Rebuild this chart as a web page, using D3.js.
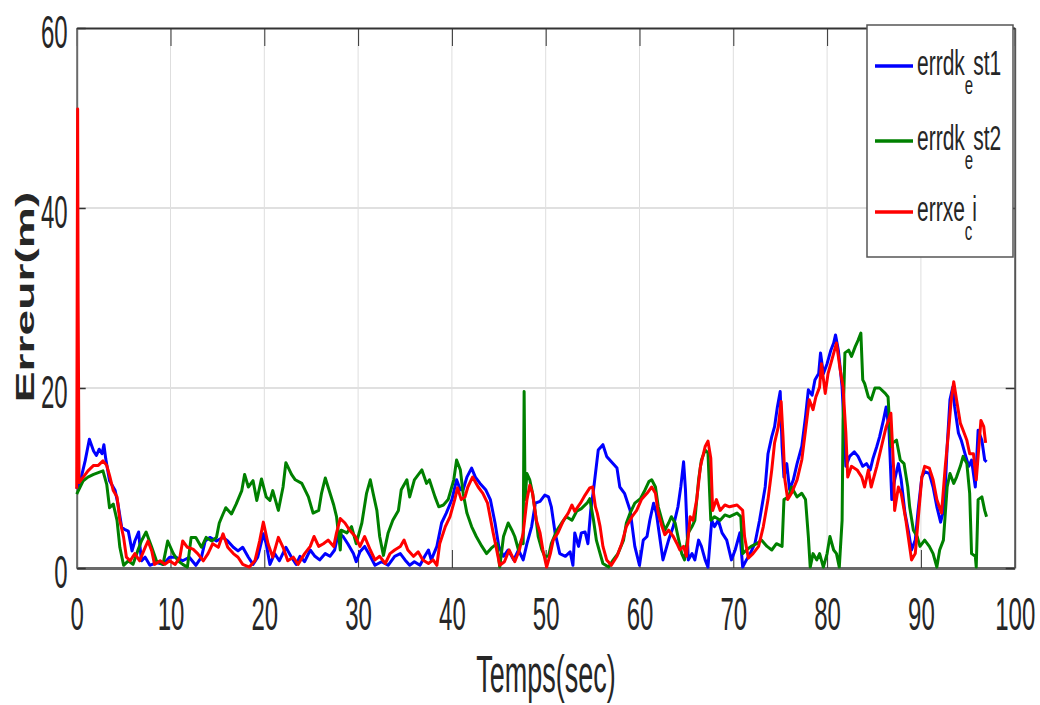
<!DOCTYPE html>
<html><head><meta charset="utf-8">
<script src="https://cdn.jsdelivr.net/npm/d3@7"></script>
<style>
html,body{margin:0;padding:0;background:#fff;}
svg{display:block;}
text{font-family:"Liberation Sans", Arial, Helvetica, sans-serif; fill:#262626;}
</style></head><body>
<svg id="chart" width="1040" height="705"></svg>
<script>
const xTicks = [0,10,20,30,40,50,60,70,80,90,100];
const yTicks = [0,20,40,60];
const xLabel = "Temps(sec)";
const yLabel = "Erreur(m)";
const legendParts = [["errdk","e","st1"],["errdk","e","st2"],["errxe","c","i"]];
const seriesColors = ["#0000ff","#008000","#ff0000"];

const errdkEst1 = [[0,8.8],[0.4,9.7],[0.9,11.9],[1.35,14.3],[1.8,13],[2.1,12.5],[2.4,13.2],[2.7,12.7],[2.9,13.7],[3.1,12.1],[3.5,9.7],[4.1,8.6],[4.4,7.1],[4.8,4.5],[5.1,4.3],[5.5,4.1],[5.9,1.9],[6.2,3.0],[6.6,4.0],[6.9,0.8],[7.3,1.2],[7.8,0.3],[8.5,0.6],[9.2,0.4],[9.9,1.2],[10.6,1.2],[11.3,0.8],[12,1.2],[12.7,0.3],[13.3,1.2],[13.7,3.0],[14.2,3.4],[14.9,3.0],[15.6,3.4],[16.1,3.0],[16.7,2.3],[17.2,1.9],[17.7,2.3],[18.3,1.2],[18.8,0.4],[19.3,1.2],[19.9,3.8],[20.2,2.7],[20.6,0.4],[21.1,1.6],[21.6,0.8],[22.3,2.3],[22.9,1.2],[23.4,0.4],[23.8,1.3],[24.3,0.7],[24.9,2.0],[25.4,1.3],[25.9,0.9],[26.5,1.6],[27,1.3],[27.5,2.0],[27.9,3.9],[28.4,3.5],[28.9,2.7],[29.5,1.6],[29.8,0.7],[30.2,1.8],[30.7,2.4],[31.3,1.3],[31.8,0.3],[32.5,0.7],[33.2,0.3],[33.9,1.3],[34.5,1.6],[35,0.9],[35.5,0.3],[36,0.7],[36.6,0.3],[37.1,1.3],[37.5,2.0],[37.8,0.9],[38.4,2.4],[38.9,5.0],[39.4,6.1],[40,7.6],[40.5,9.8],[40.9,8.7],[41.2,8.7],[41.6,10.1],[42.1,11.1],[42.5,10.1],[43,9.4],[43.6,8.7],[44.1,7.6],[44.6,5.0],[45,2.4],[45.5,1.3],[46,2.0],[46.6,0.9],[47.1,2.0],[47.6,0.9],[48,2.7],[48.5,4.6],[48.9,7.2],[49.4,7.4],[49.9,8.1],[50.3,7.9],[50.6,6.8],[51,3.9],[51.5,1.6],[52.1,1.3],[52.6,1.8],[52.9,0.3],[53.1,3.9],[53.5,2.4],[53.8,3.9],[54.2,4.0],[54.5,2.7],[54.8,6.4],[55.1,8.7],[55.6,13.1],[56.1,13.7],[56.5,12.4],[57,11.8],[57.6,11.1],[57.9,9.0],[58.4,8.3],[59,6.4],[59.5,2.4],[60,0.3],[60.4,3.1],[60.8,3.5],[61.1,5.3],[61.5,7.2],[61.8,6.1],[62.2,3.1],[62.5,0.9],[63.1,3.1],[63.6,4.6],[64.1,6.8],[64.4,9.0],[64.7,11.8],[64.9,8.7],[65.2,0.9],[65.6,1.6],[65.9,0.9],[66.3,3.1],[66.6,2.4],[67,0.9],[67.3,0.1],[67.7,5.3],[68,4.6],[68.4,5.3],[68.8,3.9],[69.3,3.1],[69.8,0.9],[70.2,2.0],[70.7,3.9],[71,0.1],[71.4,0.9],[71.8,1.6],[72.3,2.7],[72.8,5.3],[73.4,9.0],[73.7,12.7],[74.1,14.6],[74.4,15.7],[74.7,17.9],[75,19.6],[75.2,13.5],[75.4,10.1],[75.7,11.6],[76,8.7],[76.4,9.8],[76.8,11.6],[77.3,13.5],[77.7,16.8],[78,19.8],[78.4,19.2],[78.7,20.9],[79.1,21.6],[79.3,23.9],[79.6,21.6],[80,22.7],[80.4,24.2],[80.7,25],[80.9,25.9],[81.2,24.2],[81.6,20.1],[81.8,15.7],[82,11.3],[82.4,12.4],[82.9,12.9],[83.3,12.4],[83.8,11.3],[84.2,11.6],[84.6,10.9],[84.9,12.2],[85.3,13.5],[85.6,14.6],[86,16.4],[86.3,17.9],[86.6,15.3],[86.9,7.6],[87.2,9.8],[87.6,11.6],[87.9,9.8],[88.3,6.1],[88.7,3.9],[89,2.0],[89.4,3.1],[89.7,6.4],[90.1,10.1],[90.4,10.7],[90.9,10.5],[91.3,9.0],[91.7,6.8],[92.1,5.1],[92.5,6.8],[92.8,13.5],[93.1,18.7],[93.4,20.1],[93.6,17.9],[94,15],[94.3,14.2],[94.7,12.7],[95.1,11.3],[95.4,12.0],[95.8,9.0],[96.1,15.3],[96.5,14.2],[96.8,12.0],[97,11.8]];

const errdkEst2 = [[0,8.2],[0.7,9.7],[1.2,10.1],[1.8,10.4],[2.3,10.6],[2.8,10.8],[3.2,9.3],[3.5,6.7],[3.9,7.1],[4.3,5.3],[4.6,2.3],[5,0.3],[5.5,0.8],[6,0.4],[6.5,1.9],[6.9,3.0],[7.4,4.0],[8,2.3],[8.5,0.8],[9.2,0.4],[9.7,3.0],[10.3,1.6],[10.8,0.8],[11.3,0.4],[11.8,0.1],[12.2,3.4],[12.7,3.4],[13.3,2.3],[13.8,3.4],[14.4,3.0],[14.9,3.4],[15.2,5.0],[15.6,6.0],[15.9,6.7],[16.5,6.0],[17,7.1],[17.6,8.6],[17.9,10.4],[18.3,9.0],[18.8,9.7],[19.2,7.5],[19.7,9.9],[20.2,7.9],[20.6,7.5],[20.9,8.6],[21.5,6.4],[22,9.0],[22.3,11.7],[22.9,10.4],[23.3,9.8],[24,9.4],[24.7,7.9],[25.2,6.1],[25.8,6.4],[26.1,8.3],[26.5,10.0],[26.8,9.0],[27.4,7.0],[27.7,5.7],[28.1,2.0],[28.2,4.2],[28.8,3.9],[29.3,4.6],[29.8,2.7],[30.4,5.0],[30.9,8.3],[31.3,9.8],[31.6,8.3],[32,6.4],[32.3,3.5],[32.7,1.4],[33.2,3.9],[33.7,5.3],[34.3,6.4],[34.6,8.7],[35.2,9.8],[35.5,7.9],[36,9.8],[36.8,10.9],[37.3,9.4],[37.6,9.8],[38.2,7.9],[38.6,6.8],[39.1,7.0],[39.6,7.6],[40.2,9.8],[40.5,12.0],[40.9,10.9],[41.2,8.3],[41.6,6.1],[42.1,4.6],[42.6,3.5],[43.2,2.4],[43.7,1.6],[44.2,2.2],[44.8,2.7],[45.1,0.1],[45.5,3.5],[46,5.0],[46.4,4.2],[46.7,3.5],[47.1,2.0],[47.4,3.1],[47.6,2.7],[47.7,19.6],[47.8,7.6],[48,10.5],[48.3,9.8],[48.6,8.3],[48.9,6.1],[49.2,3.5],[49.6,2.0],[49.9,1.3],[50.3,1.3],[50.6,2.7],[51.2,4.2],[51.7,5.0],[52.2,5.7],[52.8,5.3],[53.3,6.3],[53.8,6.6],[54.4,7.2],[54.7,7.7],[55.1,5.3],[55.4,3.1],[55.8,1.6],[56.1,0.5],[56.7,0.1],[57.2,0.9],[57.7,1.6],[58.3,3.1],[58.6,5.0],[59,6.1],[59.5,7.2],[60.1,7.7],[60.6,8.7],[61,9.6],[61.3,9.8],[61.7,9.0],[62,6.8],[62.4,5.3],[62.7,4.2],[63.1,5.0],[63.4,5.7],[63.8,5.0],[64.1,3.5],[64.5,1.6],[64.8,0.9],[65.2,3.9],[65.6,4.6],[65.9,5.3],[66.3,9.8],[66.6,12.0],[67,13.1],[67.3,12.8],[67.6,5.3],[68,5.7],[68.6,5.3],[69.1,5.9],[69.6,5.7],[70.4,6.1],[70.8,5.7],[71,1.6],[71.4,2.0],[71.9,2.4],[72.5,2.7],[73,3.1],[73.6,2.4],[74.1,2.0],[74.6,2.7],[75.2,2.4],[75.4,7.6],[75.9,7.9],[76.2,9.0],[76.8,7.9],[77.3,8.3],[77.7,7.6],[78,3.5],[78.2,0.1],[78.5,1.6],[78.9,0.9],[79.2,1.6],[79.6,0.1],[80,1.6],[80.3,3.5],[80.7,2.0],[81,1.6],[81.3,0.1],[81.6,5.3],[81.7,16.4],[81.9,23.9],[82.3,24.2],[82.6,23.5],[83,24.6],[83.3,25.3],[83.6,26.1],[83.8,20.9],[84,20.5],[84.4,19.0],[84.7,18.7],[85.1,20.0],[85.6,20.0],[86.2,19.4],[86.5,19.0],[86.8,13.5],[87,13.9],[87.4,14.2],[87.8,12.0],[88.2,11.6],[88.6,9.0],[88.8,6.8],[89.2,4.2],[89.6,3.5],[89.9,2.4],[90.4,3.1],[90.9,2.4],[91.3,1.6],[91.7,0.1],[92,2.0],[92.4,3.1],[92.8,9.0],[93.1,10.5],[93.5,9.4],[93.8,10.1],[94.2,11.3],[94.5,12.4],[94.9,11.6],[95.2,8.3],[95.4,1.6],[95.8,1.3],[95.9,0.1],[96.1,7.6],[96.5,7.9],[96.8,6.4],[97,5.7]];

const errxeCi = [[0,8.8],[0.1,51],[0.15,30],[0.25,9.5],[0.7,10.1],[1.2,10.8],[1.8,11.4],[2.3,11.4],[2.8,11.9],[3.2,11.4],[3.5,10.3],[3.9,8.6],[4.3,7.9],[4.6,5.3],[5,3.4],[5.3,1.2],[5.7,0.8],[6.2,1.6],[6.7,0.8],[7.3,2.3],[7.6,3.0],[8,1.9],[8.3,0.4],[8.9,0.8],[9.4,0.4],[9.9,0.8],[10.5,0.4],[11,1.2],[11.3,3.0],[11.8,2.3],[12.4,2.1],[12.9,1.6],[13.5,0.8],[14,1.6],[14.5,2.7],[15.1,2.3],[15.6,3.8],[16.1,2.3],[16.7,1.6],[17.2,1.2],[17.7,0.4],[18.4,0.1],[19,0.8],[19.5,3.0],[19.9,5.1],[20.4,2.7],[20.9,1.2],[21.5,3.4],[22,2.3],[22.5,0.8],[23.1,1.2],[23.6,0.4],[24.3,1.6],[24.9,2.4],[25.3,3.5],[25.8,2.4],[26.3,2.7],[26.8,3.1],[27.4,2.4],[27.7,3.9],[28.1,5.5],[28.6,5.0],[29.1,4.2],[29.7,3.5],[30.2,2.4],[30.7,3.5],[31.3,2.0],[31.8,0.9],[32.3,1.3],[32.9,0.5],[33.4,1.6],[33.9,2.0],[34.5,2.4],[34.9,3.1],[35.3,2.0],[35.9,1.3],[36.4,1.8],[36.9,0.9],[37.5,0.5],[38,0.9],[38.4,0.3],[38.7,2.7],[39.3,4.6],[39.8,5.7],[40.3,7.6],[40.6,8.9],[41,7.6],[41.4,7.9],[41.7,9.0],[42.2,10.1],[42.8,9.0],[43.3,8.3],[43.8,7.2],[44.4,3.9],[44.7,2.4],[45.1,0.3],[45.6,0.7],[46.1,2.0],[46.7,0.7],[47.2,2.0],[47.6,3.9],[48,7.6],[48.3,9.2],[48.6,8.3],[49,5.3],[49.4,3.9],[49.7,2.0],[50.1,0.1],[50.5,1.6],[50.8,3.1],[51.3,3.9],[51.9,5.3],[52.4,6.1],[52.8,7.0],[53.1,6.3],[53.7,7.2],[54.2,8.1],[54.7,8.9],[55,9.0],[55.3,6.8],[55.5,6.1],[55.8,4.6],[56.1,2.4],[56.5,0.9],[57,0.3],[57.6,1.3],[58.1,2.7],[58.6,4.6],[59.2,5.7],[59.7,6.4],[60.2,7.6],[60.8,8.3],[61.3,9.0],[61.7,8.3],[62,6.1],[62.4,4.6],[62.7,3.7],[63.1,4.2],[63.6,3.5],[64,2.7],[64.3,2.0],[64.7,2.4],[65,1.3],[65.4,5.7],[65.7,5.3],[66.1,7.6],[66.5,11.3],[67,13.5],[67.3,14.1],[67.6,12.2],[67.8,6.4],[68.2,7.6],[68.6,6.4],[69.1,7.0],[69.6,6.8],[70.4,7.0],[71,6.4],[71.2,3.5],[71.6,1.1],[72.1,1.6],[72.7,2.4],[73.2,4.6],[73.7,7.6],[74.1,10.9],[74.4,13.9],[74.8,15.7],[75.1,18.5],[75.3,14.6],[75.5,9.8],[75.8,7.6],[76.2,8.3],[76.8,9.8],[77.3,12],[77.7,15.3],[78.1,18.7],[78.5,17.6],[78.8,19.0],[79.2,20.1],[79.4,22.7],[79.8,19.4],[80.1,21.6],[80.5,23.1],[81,25.0],[81.4,22.0],[81.7,20.1],[82,15.0],[82.2,10.1],[82.6,11.3],[83.2,10.9],[83.7,10.1],[84,9.0],[84.4,10.9],[84.7,9.0],[85.3,11.3],[85.8,13.5],[86.3,15.7],[86.8,17.2],[87.1,10.9],[87.2,6.4],[87.6,9.0],[87.9,8.3],[88.4,5.3],[88.7,3.1],[89,0.9],[89.4,1.6],[89.7,5.3],[90.1,10.1],[90.4,11.3],[90.9,11.1],[91.3,9.8],[91.7,7.6],[92.2,6.1],[92.6,11.3],[92.9,14.6],[93.2,18.3],[93.5,20.7],[93.8,18.7],[94.2,16.1],[94.5,15.3],[94.9,14.2],[95.2,12.7],[95.6,12.7],[95.9,9.8],[96.1,12.4],[96.4,16.4],[96.7,15.7],[96.9,13.9]];

const seriesList = [errdkEst1, errdkEst2, errxeCi];

// ---------- layout ----------
const plot = {left: 76.7, right: 1014.7, top: 28, bottom: 568};
const SY = 1.95; // vertical text stretch seen in the reference
const x = d3.scaleLinear().domain([0, 100]).range([plot.left, plot.right]);
const y = d3.scaleLinear().domain([0, 60]).range([plot.bottom, plot.top]);
const svg = d3.select("#chart");

// grid
svg.append("g").selectAll("line").data(xTicks.filter(d => d > 0 && d < 100)).join("line")
  .attr("x1", d => x(d)).attr("x2", d => x(d)).attr("y1", plot.top).attr("y2", plot.bottom)
  .attr("stroke", "#dedede").attr("stroke-width", 1);
svg.append("g").selectAll("line").data(yTicks.filter(d => d > 0 && d < 60)).join("line")
  .attr("x1", plot.left).attr("x2", plot.right).attr("y1", d => y(d)).attr("y2", d => y(d))
  .attr("stroke", "#e0e0e0").attr("stroke-width", 2);

// axes
const gBottom = svg.append("g").attr("transform", `translate(0,${plot.bottom})`)
  .call(d3.axisBottom(x).tickValues(xTicks).tickSizeInner(-18).tickSizeOuter(0));
gBottom.select(".domain").attr("stroke", "#6a6a6a").attr("stroke-width", 3);
gBottom.selectAll(".tick line").attr("stroke", "#333").attr("stroke-width", 1);
gBottom.selectAll(".tick text").attr("y", null).attr("dy", null)
  .attr("transform", `translate(0,62) scale(1,${SY})`)
  .attr("font-size", 24).attr("fill", "#262626").style("font-family", '"Liberation Sans", Arial, sans-serif');

const gTop = svg.append("g").attr("transform", `translate(0,${plot.top})`)
  .call(d3.axisTop(x).tickValues(xTicks).tickSizeInner(-18).tickSizeOuter(0).tickFormat(""));
gTop.select(".domain").attr("stroke", "#333").attr("stroke-width", 2);
gTop.selectAll(".tick line").attr("stroke", "#333");

const gLeft = svg.append("g").attr("transform", `translate(${plot.left},0)`)
  .call(d3.axisLeft(y).tickValues(yTicks).tickSizeInner(-9).tickSizeOuter(0));
gLeft.select(".domain").attr("stroke", "#6a6a6a").attr("stroke-width", 2);
gLeft.selectAll(".tick line").attr("stroke", "#333").attr("stroke-width", 1.5);
gLeft.selectAll(".tick text").attr("x", null).attr("dy", null).attr("text-anchor", "end")
  .attr("transform", `translate(-9,19) scale(1,${SY})`)
  .attr("font-size", 24).attr("fill", "#262626").style("font-family", '"Liberation Sans", Arial, sans-serif');

const gRight = svg.append("g").attr("transform", `translate(${plot.right},0)`)
  .call(d3.axisRight(y).tickValues(yTicks).tickSizeInner(-9).tickSizeOuter(0).tickFormat(""));
gRight.select(".domain").attr("stroke", "#555").attr("stroke-width", 2);
gRight.selectAll(".tick line").attr("stroke", "#333").attr("stroke-width", 1.5);

// series
const line = d3.line().x(d => x(d[0])).y(d => y(d[1]));
svg.append("g").selectAll("path").data(seriesList).join("path")
  .attr("d", line).attr("fill", "none")
  .attr("stroke", (d, i) => seriesColors[i]).attr("stroke-width", 3)
  .attr("stroke-linejoin", "round");

// axis titles
svg.append("text").text(xLabel).attr("text-anchor", "middle")
  .attr("transform", `translate(546,692) scale(1,1.9)`)
  .attr("font-size", 27);
svg.append("text").text(yLabel).attr("text-anchor", "middle")
  .attr("transform", `translate(34,297) rotate(-90) scale(1.85,1)`)
  .attr("font-size", 25).attr("font-weight", "bold");

// legend
const leg = svg.append("g");
leg.append("rect").attr("x", 867).attr("y", 25).attr("width", 146).attr("height", 232)
  .attr("fill", "#fff").attr("stroke", "#555").attr("stroke-width", 1.5);
const legY = [66, 141, 212];
legendParts.forEach((p, i) => {
  leg.append("line").attr("x1", 875).attr("x2", 913).attr("y1", legY[i]).attr("y2", legY[i])
    .attr("stroke", seriesColors[i]).attr("stroke-width", 3.5);
  const t = leg.append("text")
    .attr("transform", `translate(917,${legY[i] + 9}) scale(1,1.7)`)
    .attr("font-size", 21);
  t.append("tspan").text(p[0]);
  t.append("tspan").text(p[1]).attr("font-size", 15).attr("dy", 11);
  t.append("tspan").text(p[2]).attr("dy", -11);
});
</script>
</body></html>
